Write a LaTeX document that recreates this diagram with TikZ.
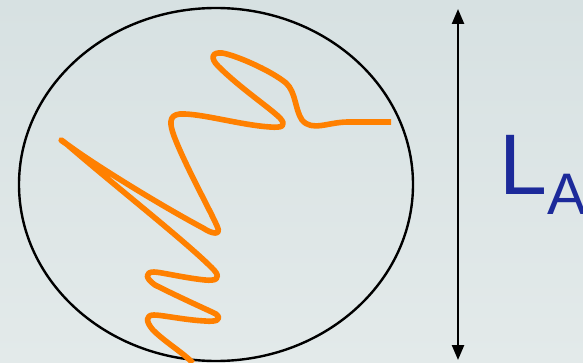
\documentclass[tikz,border=0pt]{standalone}
\usepackage{fontspec}
\setmainfont{Liberation Sans}
\usetikzlibrary{arrows.meta}
\definecolor{bgtop}{HTML}{D7E1E2}
\definecolor{bgbot}{HTML}{E3EAEA}
\definecolor{chain}{HTML}{FF8000}
\definecolor{labelblue}{HTML}{1C2A9A}
\tikzset{
  ring/.style={draw=black, line width=2.4pt},
  chainline/.style={draw=chain, line width=5.6pt, line join=round},
  sizearrow/.style={draw=black, line width=2.4pt, {Triangle[width=12pt,length=15pt]}-{Triangle[width=12pt,length=15pt]}},
  biglabel/.style={text=labelblue, inner sep=0pt, anchor=base west}
}
\begin{document}
\begin{tikzpicture}[x=1pt,y=-1pt]
\useasboundingbox (0,0) rectangle (583,363);
\shade[top color=bgtop, bottom color=bgbot] (0,0) rectangle (583,363);
% coil outline
\draw[ring] (216,184.5) ellipse [x radius=197, y radius=176.5];
% size arrow
\coordinate (atop) at (458,9);
\coordinate (abot) at (458,360);
\draw[sizearrow] (atop) -- (abot);
% label
\node[biglabel] (la) at (499,195) {\fontsize{86}{86}\selectfont L\raisebox{-20pt}{\fontsize{58.6}{58.6}\selectfont A}};
% polymer chain
\draw[chainline] (391,122) -- (348,122)
  .. controls (328,122) and (312,132) .. (302,120)
  .. controls (295,110) and (296,92) .. (286,83)
  .. controls (270,70) and (235,55) .. (222,53)
  .. controls (212,52) and (210,58) .. (218,66)
  .. controls (240,88) and (270,108) .. (280,118)
  .. controls (287,126) and (282,128) .. (270,127)
  .. controls (240,125) and (200,113) .. (180,114)
  .. controls (168,115) and (170,125) .. (174,136)
  .. controls (185,165) and (210,210) .. (217,226)
  .. controls (222,236) and (212,234) .. (203,228)
  .. controls (160,205) and (95,165) .. (68,145)
  .. controls (57,138) and (60,138) .. (70,147)
  .. controls (120,190) and (190,245) .. (214,270)
  .. controls (222,279) and (215,281) .. (205,280)
  .. controls (185,278) and (160,272) .. (154,272)
  .. controls (145,272) and (145,278) .. (155,285)
  .. controls (185,300) and (208,310) .. (216,314)
  .. controls (223,320) and (215,322) .. (205,321)
  .. controls (185,320) and (162,315) .. (154,315)
  .. controls (145,315) and (146,322) .. (153,330)
  .. controls (165,342) and (182,352) .. (193,363);
\end{tikzpicture}
\end{document}
